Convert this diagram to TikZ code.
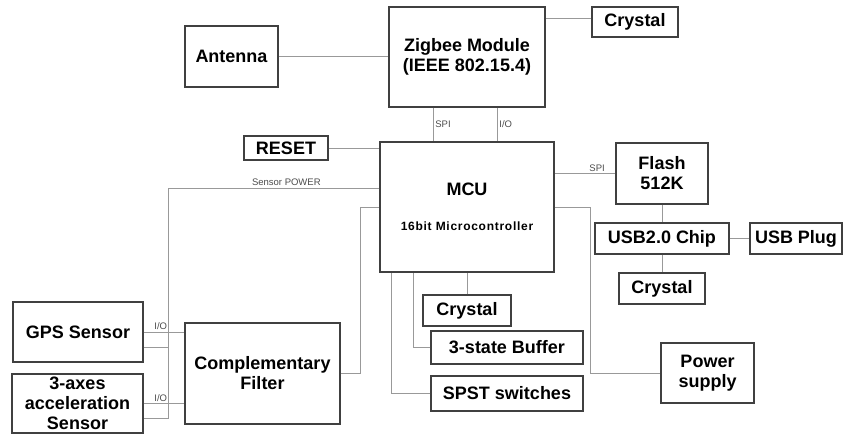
\documentclass[tikz,border=0pt]{standalone}
\usepackage{fontspec}
\setmainfont{Liberation Sans}
\usetikzlibrary{positioning}

\begin{document}
\begin{tikzpicture}[x=1pt, y=-1pt,
    block/.style={draw=black!75, line width=1.3pt, inner sep=0pt, align=center,
                  font=\fontsize{18}{20}\selectfont\bfseries},
    wire/.style={draw=black!40, line width=0.8pt},
    sig/.style={font=\fontsize{9.5}{11}\selectfont, text=black!70, inner sep=2pt}]

    \useasboundingbox (0,0) rectangle (844,435);

    \node [block, minimum width=93, minimum height=61] (antenna) at (231.5 , 56.5) {Antenna};
    \node [block, minimum width=156, minimum height=100] (zigbee) at (467 , 57) {Zigbee Module\\(IEEE 802.15.4)};
    \node [block, minimum width=86, minimum height=30] (xtalA) at (635 , 22) {Crystal};
    \node [block, minimum width=84, minimum height=24] (reset) at (286 , 148) {RESET};
    \node [block, minimum width=174, minimum height=130] (mcu) at (467 , 207)
          {MCU\\[15pt]{\fontsize{12}{13}\selectfont\addfontfeatures{LetterSpace=6}16bit Microcontroller}};
    \node [block, minimum width=92, minimum height=61] (flash) at (662 , 173.5) {Flash\\512K};
    \node [block, minimum width=134, minimum height=31] (usb) at (662 , 238.5) {USB2.0 Chip};
    \node [block, minimum width=92, minimum height=31] (plug) at (796 , 238.5) {USB Plug};
    \node [block, minimum width=86, minimum height=31] (xtalC) at (662 , 288.5) {Crystal};
    \node [block, minimum width=93, minimum height=60] (power) at (707.5 , 373) {Power\\supply};
    \node [block, minimum width=88, minimum height=31] (xtalB) at (467 , 310.5) {Crystal};
    \node [block, minimum width=152, minimum height=33] (buffer) at (507 , 347.5) {3-state Buffer};
    \node [block, minimum width=152, minimum height=35] (spst) at (507 , 393.5) {SPST switches};
    \node [block, minimum width=130, minimum height=60] (gps) at (78 , 332) {GPS Sensor};
    \node [block, minimum width=131, minimum height=59] (accel) at (77.5 , 403.5) {3-axes\\acceleration\\Sensor};
    \node [block, minimum width=155, minimum height=101] (filter) at (262.5 , 373.5) {Complementary\\Filter};

    \coordinate (gpsTap) at ([yshift=-15pt]gps.east);
    \coordinate (accTap) at ([yshift=-15pt]accel.east);
    \coordinate (pbus) at (accTap -| 168 , 0);

 \path[wire]
      (antenna) edge (antenna -| zigbee.west)
      ([yshift=4pt]xtalA.west) edge ([yshift=4pt]xtalA.west -| zigbee.east)
      ([xshift=-34pt]zigbee.south) edge node[sig, right] {SPI} ([xshift=-34pt]mcu.north)
      ([xshift=30pt]zigbee.south) edge node[sig, right] {I/O} ([xshift=30pt]mcu.north)
      (reset) edge (reset -| mcu.west)
      (flash) edge node[sig, above, pos=0.3] {SPI} (flash -| mcu.east)
      (flash) edge (usb)
      (usb) edge (plug)
      (usb) edge (xtalC)
      (xtalB) edge (xtalB |- mcu.south)
      (gps) edge node[sig, above, pos=0.42] {I/O} (gps -| filter.west)
      (accel) edge node[sig, above, pos=0.42] {I/O} (accel -| filter.west)
      (gpsTap) edge (gpsTap -| pbus);

    \draw[wire] ([yshift=19pt]mcu.west) -| node[sig, above, pos=0.22] {Sensor POWER} (pbus) -- (accTap);
    \draw[wire] (mcu.east) -- ++(36,0) |- (power.west);
    \draw[wire] (filter.east) -- ++(20,0) |- (mcu.west);
    \draw[wire] (buffer.west) -| ([xshift=-54pt]mcu.south);
    \draw[wire] (spst.west) -| ([xshift=-76pt]mcu.south);
                        \end{tikzpicture}
\end{document}
